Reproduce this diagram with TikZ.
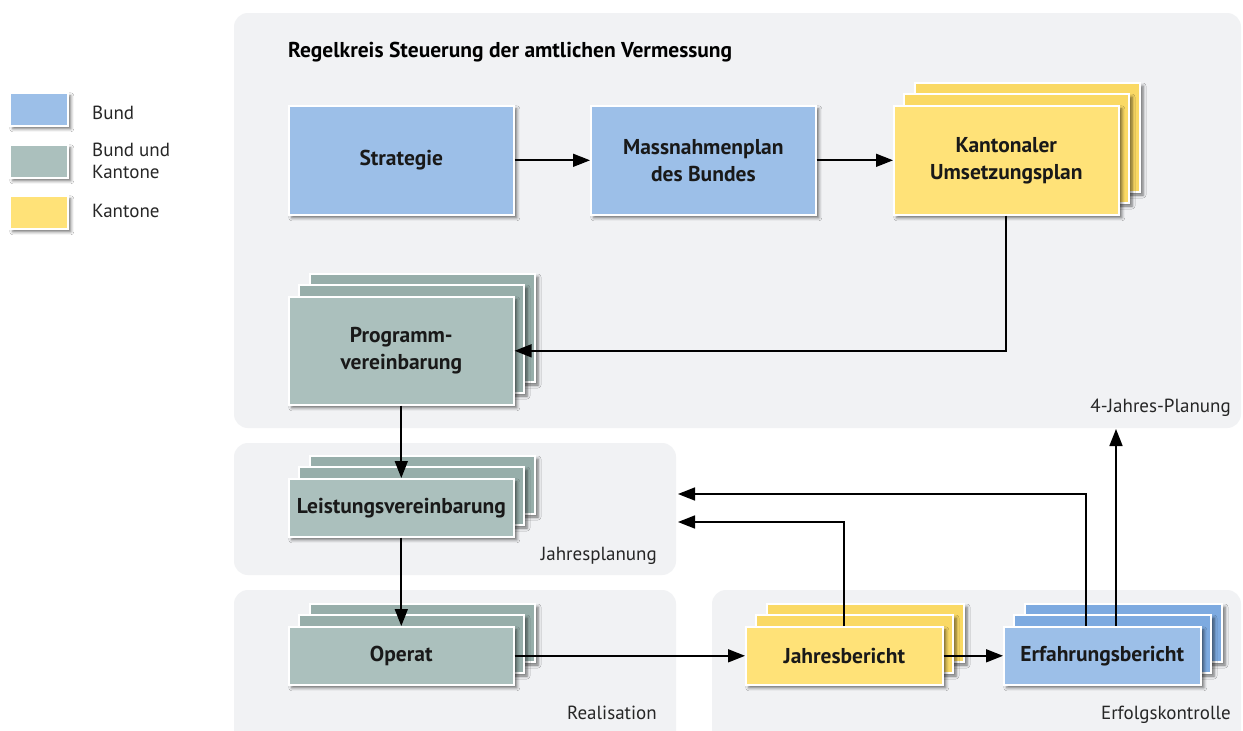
\documentclass[tikz,border=0pt]{standalone}
\usepackage{fontspec}
\setmainfont{PT Sans}
\usetikzlibrary{arrows.meta,shadows.blur}
\definecolor{regbg}{HTML}{F1F2F4}
\definecolor{bundF}{HTML}{9CBFE8}
\definecolor{bundB}{HTML}{7DAAE0}
\definecolor{bkF}{HTML}{ABC0BD}
\definecolor{bkB}{HTML}{97AEAA}
\definecolor{kantF}{HTML}{FFE278}
\definecolor{kantB}{HTML}{FAD964}
\tikzset{
  region/.style={fill=regbg, draw=none, rounded corners=14pt},
  card/.style={draw=white, line width=1.6pt,
    blur shadow={shadow xshift=3pt, shadow yshift=-3pt, shadow blur radius=3pt, shadow opacity=55}},
  boxtext/.style={font=\fontsize{21.5}{27}\selectfont\bfseries, align=center, text=black!90},
  lbl/.style={font=\fontsize{19}{22}\selectfont, text=black!85},
  conn/.style={line width=1.7pt, -{Triangle[length=17pt,width=13pt,fill=black]}},
}
\newcommand\cardstack[8]{%
  \path[card, fill=#7] (#2+22,#3-22) rectangle ++(#4,#5);
  \path[card, fill=#7] (#2+11,#3-11) rectangle ++(#4,#5);
  \node[card, fill=#6, minimum width=#4pt, minimum height=#5pt, inner sep=0pt,
        anchor=north west, boxtext] (#1) at (#2,#3) {#8};
}
\begin{document}
\begin{tikzpicture}[x=1pt,y=-1pt]
\useasboundingbox[fill=white] (0,0) rectangle (1243,731);
% regions
\path[region] (234,13) rectangle (1241,428);
\path[region] (234,443) rectangle (676,575);
\path[region] (234,590) rectangle (676,750);
\path[region] (712,590) rectangle (1241,750);
% title and region labels
\node[font=\fontsize{21.5}{24}\selectfont\bfseries, text=black, anchor=base west, inner sep=0pt] (title) at (288,57) {Regelkreis Steuerung der amtlichen Vermessung};
\node[lbl, anchor=base east, inner sep=0pt] (l4j) at (1231,412) {4-Jahres-Planung};
\node[lbl, anchor=base east, inner sep=0pt] (ljp) at (657,560) {Jahresplanung};
\node[lbl, anchor=base east, inner sep=0pt] (lre) at (657,719) {Realisation};
\node[lbl, anchor=base east, inner sep=0pt] (lek) at (1231,719) {Erfolgskontrolle};
% legend
\node[card, fill=bundF, minimum width=58pt, minimum height=33pt, inner sep=0pt, anchor=north west] (legB) at (9,92) {};
\node[card, fill=bkF, minimum width=58pt, minimum height=33pt, inner sep=0pt, anchor=north west] (legBK) at (9,144) {};
\node[card, fill=kantF, minimum width=58pt, minimum height=33pt, inner sep=0pt, anchor=north west] (legK) at (9,195) {};
\node[lbl, anchor=base west, inner sep=0pt] (tB) at (92,119) {Bund};
\node[lbl, anchor=west, inner sep=0pt, align=left] (tBK) at (92,161) {Bund und\\Kantone};
\node[lbl, anchor=base west, inner sep=0pt] (tK) at (92,217) {Kantone};
% boxes
\node[card, fill=bundF, minimum width=225pt, minimum height=109pt, inner sep=0pt, anchor=north west, boxtext] (strat) at (288,105) {Strategie};
\node[card, fill=bundF, minimum width=225pt, minimum height=109pt, inner sep=0pt, anchor=north west, boxtext] (mass) at (590,105) {Massnahmenplan\\des Bundes};
\cardstack{kant}{893}{105}{225}{109}{kantF}{kantB}{Kantonaler\\Umsetzungsplan}
\cardstack{prog}{288}{296}{225}{108}{bkF}{bkB}{Programm-\\vereinbarung}
\cardstack{leist}{288}{478}{225}{58}{bkF}{bkB}{Leistungsvereinbarung}
\cardstack{operat}{288}{626}{225}{58}{bkF}{bkB}{Operat}
\cardstack{jahr}{745}{626}{197}{58}{kantF}{kantB}{Jahresbericht}
\cardstack{erf}{1003}{626}{197}{58}{bundF}{bundB}{Erfahrungsbericht}
% connectors
\coordinate (jpA) at (678,494);
\coordinate (jpB) at (678,522);
\coordinate (planEnd) at (1116,429);
\draw[conn] (strat.east) -- (mass.west);
\draw[conn] (mass.east) -- (kant.west);
\draw[conn] (kant.south) |- (prog.east);
\draw[conn] (prog.south) -- (leist.north);
\draw[conn] (leist.south) -- (operat.north);
\draw[conn] (operat.east) -- (jahr.west);
\draw[conn] (jahr.east) -- (erf.west);
\draw[conn] (jahr.north) |- (jpB);
\draw[conn] ([xshift=-16pt]erf.north) |- (jpA);
\draw[conn] (erf.north -| planEnd) -- (planEnd);
\end{tikzpicture}
\end{document}
